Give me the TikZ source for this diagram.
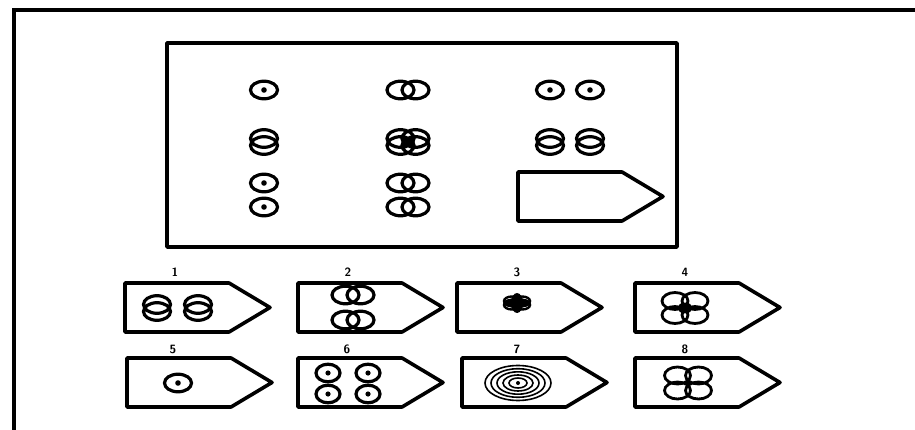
\documentclass[tikz,border=0pt]{standalone}
\usepackage{tikz}
\begin{document}
\begin{tikzpicture}[x=1pt,y=-1pt,
  frame/.style={line width=3.6pt,line join=round},
  glyph/.style={line width=3.2pt},
  thin glyph/.style={line width=1.6pt},
  num/.style={font=\sffamily\bfseries\fontsize{12}{12}\selectfont,inner sep=0pt},
  pics/dotc/.style={code={\draw[glyph] (0,0) ellipse (13.5pt and 8.8pt); \fill (0,0) circle (2.8pt);}},
  pics/smalldotc/.style={code={\draw[glyph] (0,0) ellipse (12pt and 8.8pt); \fill (0,0) circle (2.6pt);}},
  pics/hpair/.style={code={\draw[glyph] (-7.5,0) ellipse (13.5pt and 8.8pt) (7.5,0) ellipse (13.5pt and 8.8pt);}},
  pics/vpair/.style={code={\draw[glyph] (0,-3.5) ellipse (13.5pt and 8.8pt) (0,3.5) ellipse (13.5pt and 8.8pt);}},
  pics/quad/.style={code={\draw[glyph] (-7.5,-3.5) ellipse (13.5pt and 8.8pt) (7.5,-3.5) ellipse (13.5pt and 8.8pt)
      (-7.5,3.5) ellipse (13.5pt and 8.8pt) (7.5,3.5) ellipse (13.5pt and 8.8pt); \fill (0,0) circle (3pt);}},
  pics/flowerA/.style={code={\draw[line width=2.8pt] (-10,-7) ellipse (13pt and 8.5pt) (10,-7) ellipse (13pt and 8.5pt)
      (-10,7) ellipse (13pt and 8.5pt) (10,7) ellipse (13pt and 8.5pt) (0,0) ellipse (6pt and 4pt);}},
  pics/flowerB/.style={code={\draw[line width=2.8pt] (-10.5,-7.5) ellipse (13pt and 8.5pt) (10.5,-7.5) ellipse (13pt and 8.5pt)
      (-10.5,7.5) ellipse (13pt and 8.5pt) (10.5,7.5) ellipse (13pt and 8.5pt); \fill (0,0) circle (3pt);}},
  pics/tiny/.style={code={\fill (0,0) ellipse (14pt and 5pt); \fill (0,0) ellipse (6pt and 10pt);
      \draw[line width=2.4pt] (-5,-2) ellipse (8pt and 4.5pt) (5,-2) ellipse (8pt and 4.5pt)
      (-5,2) ellipse (8pt and 4.5pt) (5,2) ellipse (8pt and 4.5pt);}},
  pics/rings/.style={code={\foreach \r/\s in {33/17.5,27/14.3,21/11.2,15/8,9/5}{\draw[thin glyph] (0,0) ellipse (\r pt and \s pt);}
      \fill (0,0) circle (2pt);}},
  pics/pent/.style={code={\draw[frame] (0,0) -- (104,0) -- (145,24.5) -- (104,49) -- (0,49) -- cycle;}}
]
\useasboundingbox (0,0) rectangle (915,430);
% outer frame
\draw[line width=3.8pt] (14,430) -- (14,10) -- (915,10);
% main box
\draw[frame] (167,43) rectangle (677,247);
% matrix
\pic at (264,90) {dotc};
\pic at (408,90) {hpair};
\pic at (550,90) {dotc};
\pic at (590,90) {dotc};
\pic at (264,142) {vpair};
\pic at (408,142) {quad};
\pic at (550,142) {vpair};
\pic at (590,142) {vpair};
\pic at (264,183) {dotc};
\pic at (264,207) {dotc};
\pic at (408,183) {hpair};
\pic at (408,207) {hpair};
\pic at (518,172) {pent};
% options
\pic at (125,283) {pent};
\pic at (298,283) {pent};
\pic at (457,283) {pent};
\pic at (635,283) {pent};
\pic at (127,358) {pent};
\pic at (298,358) {pent};
\pic at (462,358) {pent};
\pic at (635,358) {pent};
\node[num] (n1) at (175,272) {1};
\node[num] (n2) at (348,272) {2};
\node[num] (n3) at (517,272) {3};
\node[num] (n4) at (685,272) {4};
\node[num] (n5) at (173,349) {5};
\node[num] (n6) at (347,349) {6};
\node[num] (n7) at (517,349) {7};
\node[num] (n8) at (685,349) {8};
% option contents
\pic at (157,308) {vpair};
\pic at (198,308) {vpair};
\pic at (353,295) {hpair};
\pic at (353,320) {hpair};
\pic at (517,303) {tiny};
\pic at (685,308) {flowerA};
\pic at (178,383) {dotc};
\pic at (328,373) {smalldotc};
\pic at (368,373) {smalldotc};
\pic at (328,394) {smalldotc};
\pic at (368,394) {smalldotc};
\pic at (518,383) {rings};
\pic at (688,383) {flowerB};
\end{tikzpicture}
\end{document}
